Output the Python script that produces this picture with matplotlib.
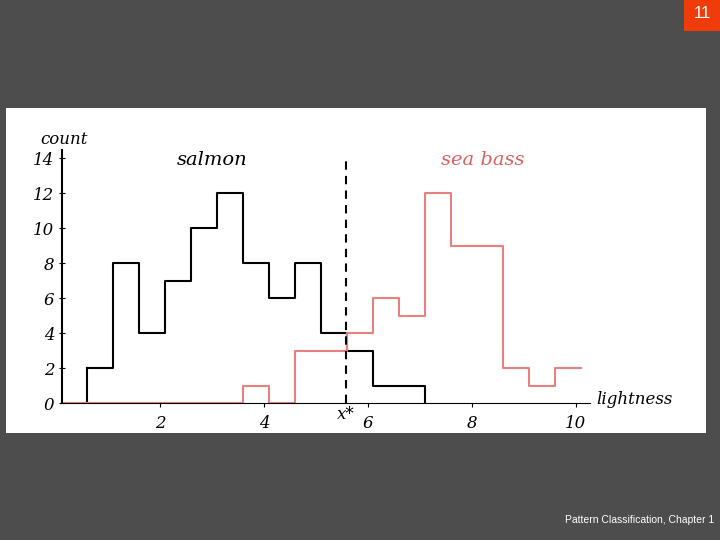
import matplotlib
matplotlib.use("Agg")
import matplotlib.pyplot as plt
from matplotlib.patches import Rectangle

salmon_edges = [0.6, 1.1, 1.6, 2.1, 2.6, 3.1, 3.6, 4.1, 4.6, 5.1, 5.6, 6.1, 6.6, 7.1]
salmon_counts = [2, 8, 4, 7, 10, 12, 8, 6, 8, 4, 3, 1, 1]
bass_edges = [0.1, 3.6, 4.1, 4.6, 5.1, 5.6, 6.1, 6.6, 7.1, 7.6, 8.1, 8.6, 9.1, 9.6, 10.1]
bass_counts = [0, 1, 0, 3, 3, 4, 6, 5, 12, 9, 9, 2, 1, 2]
threshold = 5.58
xticks = [2, 4, 6, 8, 10]
yticks = [0, 2, 4, 6, 8, 10, 12, 14]

fig = plt.figure(figsize=(7.2, 5.4), dpi=100)
fig.patch.set_facecolor("#4d4d4d")
fig.patches.append(Rectangle((6/720, 1-433/540), 700/720, 325/540, transform=fig.transFigure,
                             facecolor="white", edgecolor="none", zorder=-5))
fig.patches.append(Rectangle((684/720, 1-31/540), 36/720, 31/540, transform=fig.transFigure,
                             facecolor="#f03c0a", edgecolor="none", zorder=-5))
fig.text(702/720, 1-14/540, "11", color="white", fontsize=12, ha="center", va="center",
         family="Liberation Sans")
fig.text(714/720, 1-520/540, "Pattern Classification, Chapter 1", color="white", fontsize=7.5,
         ha="right", va="center", family="Liberation Sans")

ax = fig.add_axes([62/720, 1-403/540, 528/720, 253/540])
ax.set_facecolor("none")
ax.set_zorder(2)
ax.set_xlim(0.115, 10.27)
ax.set_ylim(0, 14.46)
for s in ["top", "right"]:
    ax.spines[s].set_visible(False)
ax.spines["left"].set_linewidth(1.5)
ax.spines["bottom"].set_linewidth(0.8)

ax.step(salmon_edges + [salmon_edges[-1]], [salmon_counts[0]] + salmon_counts + [0], where="pre",
        color="black", lw=1.5)
ax.plot([salmon_edges[0], salmon_edges[0]], [0, salmon_counts[0]], color="black", lw=1.5)
ax.step(bass_edges, [bass_counts[0]] + bass_counts, where="pre", color="#e88080", lw=1.5)
ax.axvline(threshold, ymax=14/14.46, color="black", lw=1.5, ls=(0, (4, 3)))

serif = dict(family="DejaVu Serif", style="italic")
ax.set_xticks(xticks)
ax.set_xticklabels([str(t) for t in xticks], fontsize=12, **serif)
ax.set_yticks(yticks)
ax.set_yticklabels([str(t) for t in yticks], fontsize=12, **serif)
ax.tick_params(axis="x", length=3, pad=6)
ax.tick_params(axis="y", length=4, direction="inout")
ax.text(threshold, -0.2, "x*", ha="center", va="top", fontsize=12, **serif)
ax.text(10.4, -0.3, "lightness", ha="left", va="bottom", fontsize=12, clip_on=False, **serif)
ax.text(-0.3, 14.6, "count", ha="left", va="bottom", fontsize=12, clip_on=False, **serif)
ax.text(3.0, 13.9, "salmon", ha="center", va="center", fontsize=14, **serif)
ax.text(8.2, 13.9, "sea bass", ha="center", va="center", fontsize=14, color="#e06060", **serif)

fig.savefig("out.png", dpi=100, facecolor=fig.get_facecolor())
